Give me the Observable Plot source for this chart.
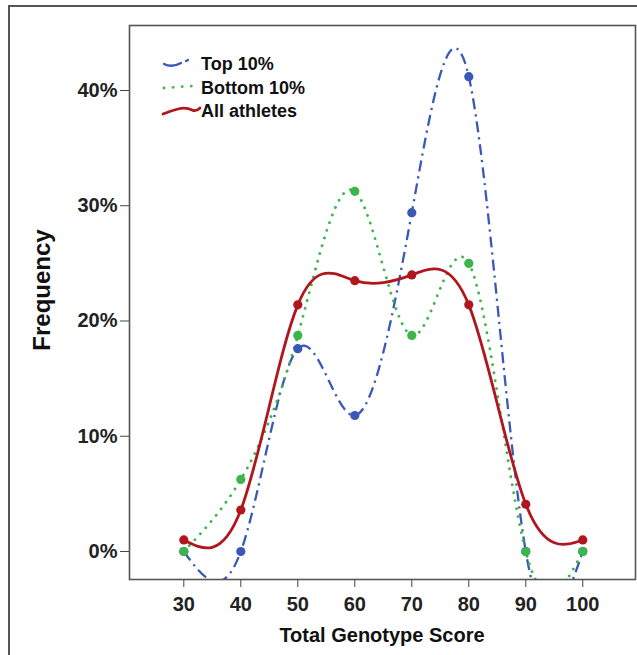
<!DOCTYPE html>
<html><head><meta charset="utf-8">
<script src="https://cdn.jsdelivr.net/npm/d3@7"></script>
<script src="https://cdn.jsdelivr.net/npm/@observablehq/plot@0.6"></script>
<style>
html,body{margin:0;padding:0;background:#fff;}
#wrap{position:relative;width:637px;height:655px;overflow:hidden;background:#fff;}
#border{position:absolute;left:8px;top:5px;width:800px;height:800px;border-top:2px solid #555;border-left:2px solid #555;}
#chart{position:absolute;left:0;top:0;}
</style></head><body>
<div id="wrap"><div id="border"></div><div id="chart"></div></div>
<script>
// ---- data ----
const scores = [30, 40, 50, 60, 70, 80, 90, 100];
const top10 = [0, 0, 17.6, 11.8, 29.4, 41.2, 0, 0];
const bottom10 = [0, 6.25, 18.75, 31.25, 18.75, 25, 0, 0];
const allAthletes = [1.0, 3.6, 21.4, 23.5, 24.0, 21.4, 4.1, 1.0];
const seriesNames = ["Top 10%", "Bottom 10%", "All athletes"];
const xTicks = [30, 40, 50, 60, 70, 80, 90, 100];
const yTicks = [0, 10, 20, 30, 40];
const xTitle = "Total Genotype Score";
const yTitle = "Frequency";

// ---- styles ----
const styles = {
  "Top 10%": {color: "#3a58b8", width: 2.3, dash: "11,5,2.2,5", cap: "butt"},
  "Bottom 10%": {color: "#3cb54a", width: 2.8, dash: "0.1,8", cap: "round"},
  "All athletes": {color: "#b0161d", width: 2.8, dash: null, cap: "round"}
};
const valuesBySeries = {"Top 10%": top10, "Bottom 10%": bottom10, "All athletes": allAthletes};
const rows = seriesNames.flatMap(s => scores.map((x, i) => ({series: s, x, y: valuesBySeries[s][i]})));

const marks = [];
for (const s of seriesNames) {
  const st = styles[s];
  const data = rows.filter(d => d.series === s);
  marks.push(Plot.line(data, {x: "x", y: "y", curve: "natural", stroke: st.color, strokeWidth: st.width,
    strokeDasharray: st.dash, strokeLinecap: st.cap, clip: true}));
}
for (const s of seriesNames) {
  const st = styles[s];
  const data = rows.filter(d => d.series === s);
  marks.push(Plot.dot(data, {x: "x", y: "y", r: 4.6, fill: st.color, stroke: "none"}));
}

const chart = Plot.plot({
  width: 637,
  height: 655,
  marginLeft: 129,
  marginTop: 25,
  marginRight: 2,
  marginBottom: 76,
  style: {fontFamily: "'Liberation Sans', Arial, sans-serif", fontSize: "20px", color: "#222", background: "transparent"},
  x: {domain: [20.47, 109.25]},
  y: {domain: [-2.43, 45.64]},
  marks: [
    Plot.axisX({ticks: xTicks, tickSize: 8, tickPadding: 9, label: null, tickFormat: d => String(d), fontSize: 20, fontWeight: "bold", stroke: "#444"}),
    Plot.axisY({ticks: yTicks, tickSize: 9, tickPadding: 3, label: null, tickFormat: d => d + "%", fontSize: 20, fontWeight: "bold", stroke: "#444"}),
    ...marks,
    Plot.frame({stroke: "#555", strokeWidth: 1.6})
  ]
});
document.getElementById("chart").appendChild(chart);

// ---- axis titles and legend ----
const svg = d3.select(chart);
svg.append("text").attr("x", 382).attr("y", 642).attr("text-anchor", "middle")
  .attr("font-size", 20).attr("font-weight", "bold").attr("fill", "#111").text(xTitle);
svg.append("text").attr("transform", "translate(50,290) rotate(-90)").attr("text-anchor", "middle")
  .attr("font-size", 24).attr("font-weight", "bold").attr("fill", "#111").text(yTitle);

const legend = svg.append("g").attr("text-anchor", "start");
const legendPaths = {
  "Top 10%": "M164,64 Q172,68 181,63 M186,61 L188,60",
  "Bottom 10%": "M164,88 L192,86",
  "All athletes": "M163,114 Q170,111 178,109 Q186,107 192,110 Q196,112 200,108"
};
seriesNames.forEach((s, i) => {
  const st = styles[s];
  legend.append("path").attr("d", legendPaths[s]).attr("fill", "none").attr("stroke", st.color)
    .attr("stroke-width", st.width).attr("stroke-linecap", "round")
    .attr("stroke-dasharray", s === "Bottom 10%" ? "0.1,9" : null);
  legend.append("text").attr("x", 201).attr("y", 64 + i * 23.3).attr("dy", "0.36em")
    .attr("text-anchor", "start")
    .attr("font-size", 18).attr("font-weight", "bold").attr("fill", "#111").text(s);
});
</script>
</body></html>
